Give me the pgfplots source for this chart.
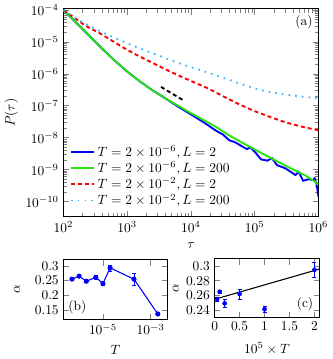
\documentclass[border=0pt]{standalone}
\usepackage{pgfplots}
\pgfplotsset{compat=1.18}
\definecolor{cgreen}{rgb}{0.15,0.9,0.05}
\definecolor{ccyan}{rgb}{0.2,0.72,1.0}
\begin{document}
\begin{tikzpicture}
\pgfplotsset{every axis/.append style={axis line style={thick}, tick style={thin}}}
% (a) waiting time distribution
\begin{axis}[
    name=main, at={(0pt,0pt)}, anchor=north west,
    scale only axis, width=189.75pt, height=154.5pt,
    xmode=log, ymode=log,
    xmin=100, xmax=1e6, ymin=3.4e-11, ymax=1.08e-4,
    xtick={1e2,1e3,1e4,1e5,1e6},
    ytick={1e-10,1e-9,1e-8,1e-7,1e-6,1e-5,1e-4},
    xlabel={$\tau$}, ylabel={$P(\tau)$},
    xlabel style={at={(axis description cs:0.5,-0.141)}, anchor=center},
    ylabel style={at={(axis description cs:-0.205,0.5)}, anchor=center},
    legend style={at={(0.02,0.025)}, anchor=south west, draw=none, fill=none,
      row sep=-1.5pt, inner sep=1pt},
    legend cell align=left,
    every axis plot/.append style={line width=1.4pt},
  ]
  \addplot[blue] coordinates {
    (100,1e-4) (158.5,3.98e-5) (251.2,1.585e-5) (398.1,6.31e-6) (631,2.63e-6)
    (1000,1.175e-6) (1585,5.75e-7) (2512,3.02e-7) (3981,1.70e-7) (6310,9.33e-8)
    (1e4,5.37e-8) (15850,3.02e-8) (25120,1.62e-8) (31620,1.26e-8) (39810,8.32e-9)
    (50120,7.08e-9) (63100,5.37e-9) (75860,4.37e-9) (85110,5.01e-9) (1e5,3.63e-9)
    (125900,2.09e-9) (158500,1.91e-9) (186200,2.29e-9) (223900,1.38e-9)
    (302000,1.10e-9) (354800,8.91e-10) (436500,6.76e-10) (489800,8.51e-10)
    (575400,4.47e-10) (707900,5.01e-10) (812800,4.68e-10) (871000,5.37e-10)
    (933300,3.55e-10) (977200,2.0e-10) (1e6,1.41e-10)
  };
  \addlegendentry{$T=2\times10^{-6},L=2$}
  \addplot[cgreen] coordinates {
    (100,1e-4) (158.5,3.98e-5) (251.2,1.585e-5) (398.1,6.31e-6) (631,2.63e-6)
    (1000,1.175e-6) (1585,5.75e-7) (2512,3.02e-7) (3981,1.70e-7) (6310,1.0e-7)
    (1e4,5.89e-8) (15850,3.55e-8) (25120,2.14e-8) (39810,1.175e-8) (63100,7.08e-9)
    (1e5,4.27e-9) (158500,2.63e-9) (251200,1.62e-9) (398100,1.02e-9)
    (631000,6.46e-10) (891300,4.17e-10) (1e6,3.31e-10)
  };
  \addlegendentry{$T=2\times10^{-6},L=200$}
  \addplot[red, dash pattern=on 3pt off 2.2pt] coordinates {
    (100,1e-4) (128.8,6.92e-5) (223.9,3.16e-5) (363.1,1.91e-5) (524.8,1.23e-5)
    (851.1,6.76e-6) (1380,3.98e-6) (2512,2.19e-6) (4074,1.35e-6) (7586,7.59e-7)
    (10720,5.62e-7) (17780,3.63e-7) (31620,2.0e-7) (56230,1.12e-7) (1e5,6.76e-8)
    (177800,4.37e-8) (316200,2.95e-8) (562300,2.19e-8) (1e6,1.70e-8)
  };
  \addlegendentry{$T=2\times10^{-2},L=2$}
  \addplot[ccyan, dash pattern=on 1.2pt off 3.8pt] coordinates {
    (100,1e-4) (173.8,4.79e-5) (223.9,3.63e-5) (338.8,2.40e-5) (446.7,1.82e-5)
    (891.3,1e-5) (1380,6.92e-6) (1862,5.50e-6) (3236,3.63e-6) (4898,2.63e-6)
    (8511,1.78e-6) (13800,1.32e-6) (28840,8.13e-7) (58880,4.90e-7)
    (123000,3.09e-7) (251200,2.34e-7) (467700,2.0e-7) (812800,1.78e-7) (1e6,1.74e-7)
  };
  \addlegendentry{$T=2\times10^{-2},L=200$}
  % guide line
  \addplot[black, dash pattern=on 3pt off 2.2pt, forget plot] coordinates {
    (3388,3.89e-7) (7586,1.48e-7)
  };
  \node at (rel axis cs:0.943,0.935) {(a)};
\end{axis}

% (b) exponent vs T
\begin{axis}[
    at={(0pt,-186.75pt)}, anchor=north west,
    scale only axis, width=77.25pt, height=44.25pt,
    xmode=log, xmin=2.2e-7, xmax=5e-3,
    ymin=0.12, ymax=0.32,
    xtick={1e-5,1e-3},
    ytick={0.15,0.2,0.25,0.3},
    xlabel={$T$}, ylabel={$\alpha$},
    xlabel style={at={(axis description cs:0.5,-0.508)}, anchor=center},
    ylabel style={at={(axis description cs:-0.447,0.5)}, anchor=center},
  ]
  \addplot[blue, thick, mark=*, mark size=1.5pt,
    error bars/.cd, y dir=both, y explicit] coordinates {
    (5e-7,0.255) +- (0,0.003)
    (1e-6,0.265) +- (0,0.002)
    (2e-6,0.248) +- (0,0.005)
    (5e-6,0.261) +- (0,0.007)
    (1e-5,0.240) +- (0,0.004)
    (2e-5,0.293) +- (0,0.01)
    (2e-4,0.255) +- (0,0.02)
    (2e-3,0.138) +- (0,0.005)
  };
  \node at (rel axis cs:0.133,0.21) {(b)};
\end{axis}

% (c) linear regime
\begin{axis}[
    at={(112.5pt,-186pt)}, anchor=north west,
    scale only axis, width=78pt, height=43.5pt,
    xmin=0, xmax=2.1, ymin=0.23, ymax=0.31,
    xtick={0,0.5,1,1.5,2},
    ytick={0.24,0.26,0.28,0.3},
    xlabel={$10^5\times T$}, ylabel={$\alpha$},
    xlabel style={at={(axis description cs:0.5,-0.534)}, anchor=center},
    ylabel style={at={(axis description cs:-0.372,0.5)}, anchor=center},
  ]
  \addplot[blue, only marks, mark=*, mark size=1.5pt,
    error bars/.cd, y dir=both, y explicit] coordinates {
    (0.05,0.255) +- (0,0.003)
    (0.1,0.265) +- (0,0.002)
    (0.2,0.249) +- (0,0.005)
    (0.5,0.262) +- (0,0.007)
    (1,0.241) +- (0,0.004)
    (2,0.295) +- (0,0.01)
  };
  \addplot[black, thick] coordinates {(0,0.2546) (2.1,0.296)};
  \node at (rel axis cs:0.862,0.22) {(c)};
\end{axis}
\end{tikzpicture}
\end{document}
